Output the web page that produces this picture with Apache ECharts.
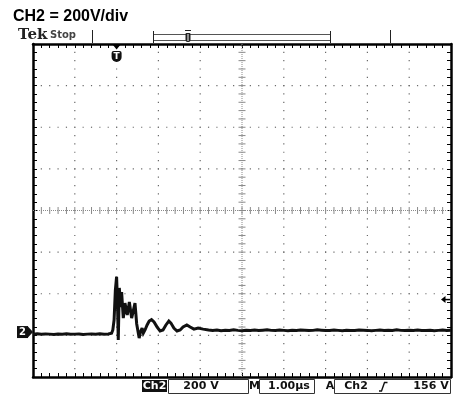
<!DOCTYPE html>
<html>
<head>
<meta charset="utf-8">
<script src="https://cdn.jsdelivr.net/npm/echarts/dist/echarts.min.js"></script>
<style>
  html, body { margin: 0; padding: 0; background: #fff; }
  #scope { width: 460px; height: 394px; }
</style>
</head>
<body>
<div id="scope"></div>
<script>
// Channel 2 capture, 1.00 µs/div, 200 V/div, triggered on Ch2 rising edge at 156 V.
const timeUs = [
  -2.0, -1.9, -1.8, -1.7, -1.6, -1.5, -1.4, -1.3, -1.2, -1.1,
  -1.0, -0.9, -0.8, -0.7, -0.6, -0.5, -0.4, -0.3, -0.2, -0.12,
  -0.09, -0.06, -0.03, 0.0, 0.02, 0.04, 0.065, 0.1, 0.12, 0.16,
  0.2, 0.255, 0.305, 0.36, 0.44, 0.48, 0.54, 0.57, 0.61, 0.64,
  0.68, 0.73, 0.78, 0.835, 0.895, 0.97, 1.04, 1.11, 1.18, 1.25,
  1.3, 1.37, 1.445, 1.52, 1.59, 1.68, 1.76, 1.85, 1.95, 2.07,
  2.2,
  2.3, 2.4, 2.5, 2.6, 2.7, 2.8, 2.9, 3.0, 3.1, 3.2,
  3.3, 3.4, 3.5, 3.6, 3.7, 3.8, 3.9, 4.0, 4.1, 4.2,
  4.3, 4.4, 4.5, 4.6, 4.7, 4.8, 4.9, 5.0, 5.1, 5.2,
  5.3, 5.4, 5.5, 5.6, 5.7, 5.8, 5.9, 6.0, 6.1, 6.2,
  6.3, 6.4, 6.5, 6.6, 6.7, 6.8, 6.9, 7.0, 7.1, 7.2,
  7.3, 7.4, 7.5, 7.6, 7.7, 7.8, 7.9, 8.0
];
const ch2Volts = [
  -10, -8, -11, -9, -10, -12, -9, -10, -8, -11,
  -10, -9, -12, -10, -9, -11, -8, -10, -9, -6,
  10, 58, 200, 266, 150, -38, 212, 120, 192, 67,
  139, 82, 144, 67, 139, 40, -29, 0, 19, -5,
  10, 34, 53, 60, 48, 24, 5, 10, 34, 53,
  43, 19, 5, 10, 24, 34, 24, 14, 19, 14,
  10,
  8, 10, 6, 9, 7, 11, 8, 6, 9, 8,
  10, 7, 9, 11, 8, 7, 10, 8, 6, 9,
  8, 10, 9, 7, 8, 11, 9, 7, 8, 10,
  8, 6, 9, 8, 7, 10, 9, 8, 6, 8,
  10, 7, 9, 8, 11, 8, 7, 9, 8, 10,
  7, 8, 9, 6, 8, 10, 8, 9
];

// Screen settings
const titleText = 'CH2 = 200V/div';
const channelLabel = 'Ch2';
const voltsPerDivLabel = '200 V';
const timePerDivLabel = '1.00\u00b5s';
const triggerSourceLabel = 'Ch2';
const triggerLevelVolts = 156;
const triggerLevelLabel = '156 V';

const T_MIN = -2, T_MAX = 8, T_DIV = 1;          // 10 horizontal divisions
const V_DIV = 200, V_MIN = -216, V_MAX = V_MIN + 8 * V_DIV; // 8 vertical divisions

const FRAME = '#000';
const DOT = '#6a6a6a';

// Graticule: dotted division lines and the centre cross with its minor ticks
function renderGraticule(params, api) {
  const kids = [];
  const p = (t, v) => api.coord([t, v]);
  const dot = (x, y) => kids.push({
    type: 'rect', shape: { x: x - 0.6, y: y - 0.6, width: 1.2, height: 1.2 },
    style: { fill: DOT }
  });
  const tCentre = T_MIN + 5 * T_DIV;
  const vCentre = V_MIN + 4 * V_DIV;
  for (let d = 1; d < 10; d++) {
    if (d === 5) continue;
    const t = T_MIN + d * T_DIV;
    for (let k = 1; k < 40; k++) {
      const [x, y] = p(t, V_MIN + k * V_DIV / 5);
      dot(x, y);
    }
  }
  for (let d = 1; d < 8; d++) {
    if (d === 4) continue;
    const v = V_MIN + d * V_DIV;
    for (let k = 1; k < 50; k++) {
      const [x, y] = p(T_MIN + k * T_DIV / 5, v);
      dot(x, y);
    }
  }
  const [cx, cyTop] = p(tCentre, V_MAX);
  const [, cyBot] = p(tCentre, V_MIN);
  const [cxL, cy] = p(T_MIN, vCentre);
  const [cxR] = p(T_MAX, vCentre);
  const crossStyle = { stroke: '#8a8a8a', lineWidth: 1, lineDash: [1, 1] };
  kids.push({ type: 'line', shape: { x1: cx, y1: cyTop, x2: cx, y2: cyBot }, style: crossStyle });
  kids.push({ type: 'line', shape: { x1: cxL, y1: cy, x2: cxR, y2: cy }, style: crossStyle });
  const tickStyle = { stroke: '#8a8a8a', lineWidth: 1 };
  for (let k = 1; k < 40; k++) {
    const [, y] = p(tCentre, V_MIN + k * V_DIV / 5);
    kids.push({ type: 'line', shape: { x1: cx - 3.5, y1: y, x2: cx + 3.5, y2: y }, style: tickStyle });
  }
  for (let k = 1; k < 50; k++) {
    const [x] = p(T_MIN + k * T_DIV / 5, vCentre);
    kids.push({ type: 'line', shape: { x1: x, y1: cy - 3.5, x2: x, y2: cy + 3.5 }, style: tickStyle });
  }
  return { type: 'group', children: kids };
}

const edgeAxis = {
  axisLine: { show: true, onZero: false, lineStyle: { color: FRAME, width: 2.5 } },
  axisTick: { show: true, inside: true, length: 4, lineStyle: { color: FRAME, width: 1 } },
  minorTick: { show: true, splitNumber: 5, length: 4, lineStyle: { color: FRAME, width: 1 } },
  axisLabel: { show: false },
  splitLine: { show: false }
};
const xEdge = (position) => Object.assign({
  type: 'value', position, min: T_MIN, max: T_MAX, interval: T_DIV
}, edgeAxis);
const yEdge = (position) => Object.assign({
  type: 'value', position, min: V_MIN, max: V_MAX, interval: V_DIV
}, edgeAxis);

const chart = echarts.init(document.getElementById('scope'), null, { renderer: 'canvas' });

chart.setOption({
  animation: false,
  backgroundColor: '#fff',
  grid: { left: 33, top: 44, width: 418, height: 333 },
  xAxis: [xEdge('bottom'), xEdge('top')],
  yAxis: [yEdge('left'), yEdge('right')],
  series: [
    {
      type: 'custom',
      xAxisIndex: 0, yAxisIndex: 0,
      silent: true, z: 1,
      renderItem: renderGraticule,
      data: [[0, 0]]
    },
    {
      type: 'line',
      xAxisIndex: 0, yAxisIndex: 0,
      z: 5,
      showSymbol: false,
      symbol: 'none',
      sampling: 'none',
      lineStyle: { color: '#111', width: 3, join: 'miter', miterLimit: 3 },
      data: timeUs.map((t, i) => [t, ch2Volts[i]])
    }
  ]
});

// Markers placed at the trigger point, ground reference and trigger level
const toPx = (t, v) => chart.convertToPixel({ xAxisIndex: 0, yAxisIndex: 0 }, [t, v]);
const [trigX, frameTop] = toPx(0, V_MAX);
const [frameLeft, gndY] = toPx(T_MIN, 0);
const [frameRight, trigY] = toPx(T_MAX, triggerLevelVolts);
const [, frameBottom] = toPx(T_MIN, V_MIN);

const txt = (text, x, y, font, fill, align) => ({
  type: 'text', z: 20,
  style: { text, x, y, font, fill: fill || '#111', align: align || 'center', verticalAlign: 'middle' }
});
const readFont = 'bold 11px "DejaVu Sans"';
const sb = frameBottom + 2;   // status bar top

chart.setOption({
  graphic: [
    // title and status
    txt(titleText, 13, 17, 'bold 16px "Liberation Sans"', '#000', 'left'),
    txt('Tek', 18, 35, 'bold 15px "DejaVu Serif"', '#222', 'left'),
    txt('Stop', 50, 35, 'bold 10px "DejaVu Sans"', '#444', 'left'),

    // record window indicator above the graticule
    { type: 'line', z: 20, shape: { x1: 92.5, y1: 30, x2: 92.5, y2: 43 }, style: { stroke: '#222', lineWidth: 1 } },
    { type: 'line', z: 20, shape: { x1: 390.5, y1: 30, x2: 390.5, y2: 43 }, style: { stroke: '#222', lineWidth: 1 } },
    { type: 'rect', z: 20, shape: { x: 153.5, y: 34.5, width: 177, height: 6 }, style: { fill: '#fff', stroke: '#555', lineWidth: 1 } },
    { type: 'line', z: 20, shape: { x1: 153.5, y1: 31, x2: 153.5, y2: 43 }, style: { stroke: '#222', lineWidth: 1 } },
    { type: 'line', z: 20, shape: { x1: 330.5, y1: 31, x2: 330.5, y2: 43 }, style: { stroke: '#222', lineWidth: 1 } },
    { type: 'rect', z: 21, shape: { x: 185.5, y: 33, width: 5, height: 9, r: [1, 1, 2, 2] }, style: { fill: '#222' } },
    { type: 'line', z: 21, shape: { x1: 185, y1: 30.5, x2: 191, y2: 30.5 }, style: { stroke: '#222', lineWidth: 1 } },
    { type: 'line', z: 22, shape: { x1: 188, y1: 34, x2: 188, y2: 41 }, style: { stroke: '#fff', lineWidth: 1 } },

    // trigger position
    { type: 'polygon', z: 20, shape: { points: [[trigX - 4.5, frameTop], [trigX + 4.5, frameTop], [trigX, frameTop + 5.5]] }, style: { fill: '#000' } },
    { type: 'rect', z: 20, shape: { x: trigX - 5, y: frameTop + 7, width: 10, height: 11, r: [2, 2, 5, 5] }, style: { fill: '#111' } },
    txt('T', trigX, frameTop + 12.5, 'bold 9px "DejaVu Sans"', '#fff'),

    // channel 2 ground reference
    { type: 'rect', z: 20, shape: { x: frameLeft - 16, y: gndY - 6, width: 11, height: 12 }, style: { fill: '#111' } },
    { type: 'polygon', z: 20, shape: { points: [[frameLeft - 5.5, gndY - 6], [frameLeft, gndY], [frameLeft - 5.5, gndY + 6]] }, style: { fill: '#111' } },
    txt('2', frameLeft - 10.5, gndY + 0.5, 'bold 10px "DejaVu Sans"', '#fff'),

    // trigger level
    { type: 'line', z: 20, shape: { x1: frameRight - 7, y1: trigY, x2: frameRight - 1, y2: trigY }, style: { stroke: '#000', lineWidth: 1.5 } },
    { type: 'polygon', z: 20, shape: { points: [[frameRight - 10, trigY], [frameRight - 5.5, trigY - 3.5], [frameRight - 5.5, trigY + 3.5]] }, style: { fill: '#000' } },

    // readout bar
    { type: 'rect', z: 20, shape: { x: 142, y: sb + 1, width: 25, height: 12 }, style: { fill: '#111' } },
    txt(channelLabel, 154.5, sb + 7.5, readFont, '#fff'),
    { type: 'rect', z: 20, shape: { x: 168.5, y: sb + 0.5, width: 80, height: 14 }, style: { fill: 'none', stroke: '#333', lineWidth: 1 } },
    txt(voltsPerDivLabel, 201, sb + 7.5, readFont),
    txt('M', 254.5, sb + 7.5, readFont),
    { type: 'rect', z: 20, shape: { x: 259.5, y: sb + 0.5, width: 55, height: 14 }, style: { fill: 'none', stroke: '#333', lineWidth: 1 } },
    txt(timePerDivLabel, 289, sb + 7.5, readFont),
    txt('A', 330, sb + 7.5, readFont),
    { type: 'rect', z: 20, shape: { x: 334.5, y: sb + 0.5, width: 116, height: 14 }, style: { fill: 'none', stroke: '#333', lineWidth: 1 } },
    txt(triggerSourceLabel, 356, sb + 7.5, readFont),
    { type: 'polyline', z: 20, shape: { points: [[379, sb + 12], [381.5, sb + 12], [384.5, sb + 3.5], [387.5, sb + 3.5]] }, style: { stroke: '#111', lineWidth: 1.4, fill: 'none' } },
    txt(triggerLevelLabel, 431, sb + 7.5, readFont)
  ]
});
</script>
</body>
</html>
